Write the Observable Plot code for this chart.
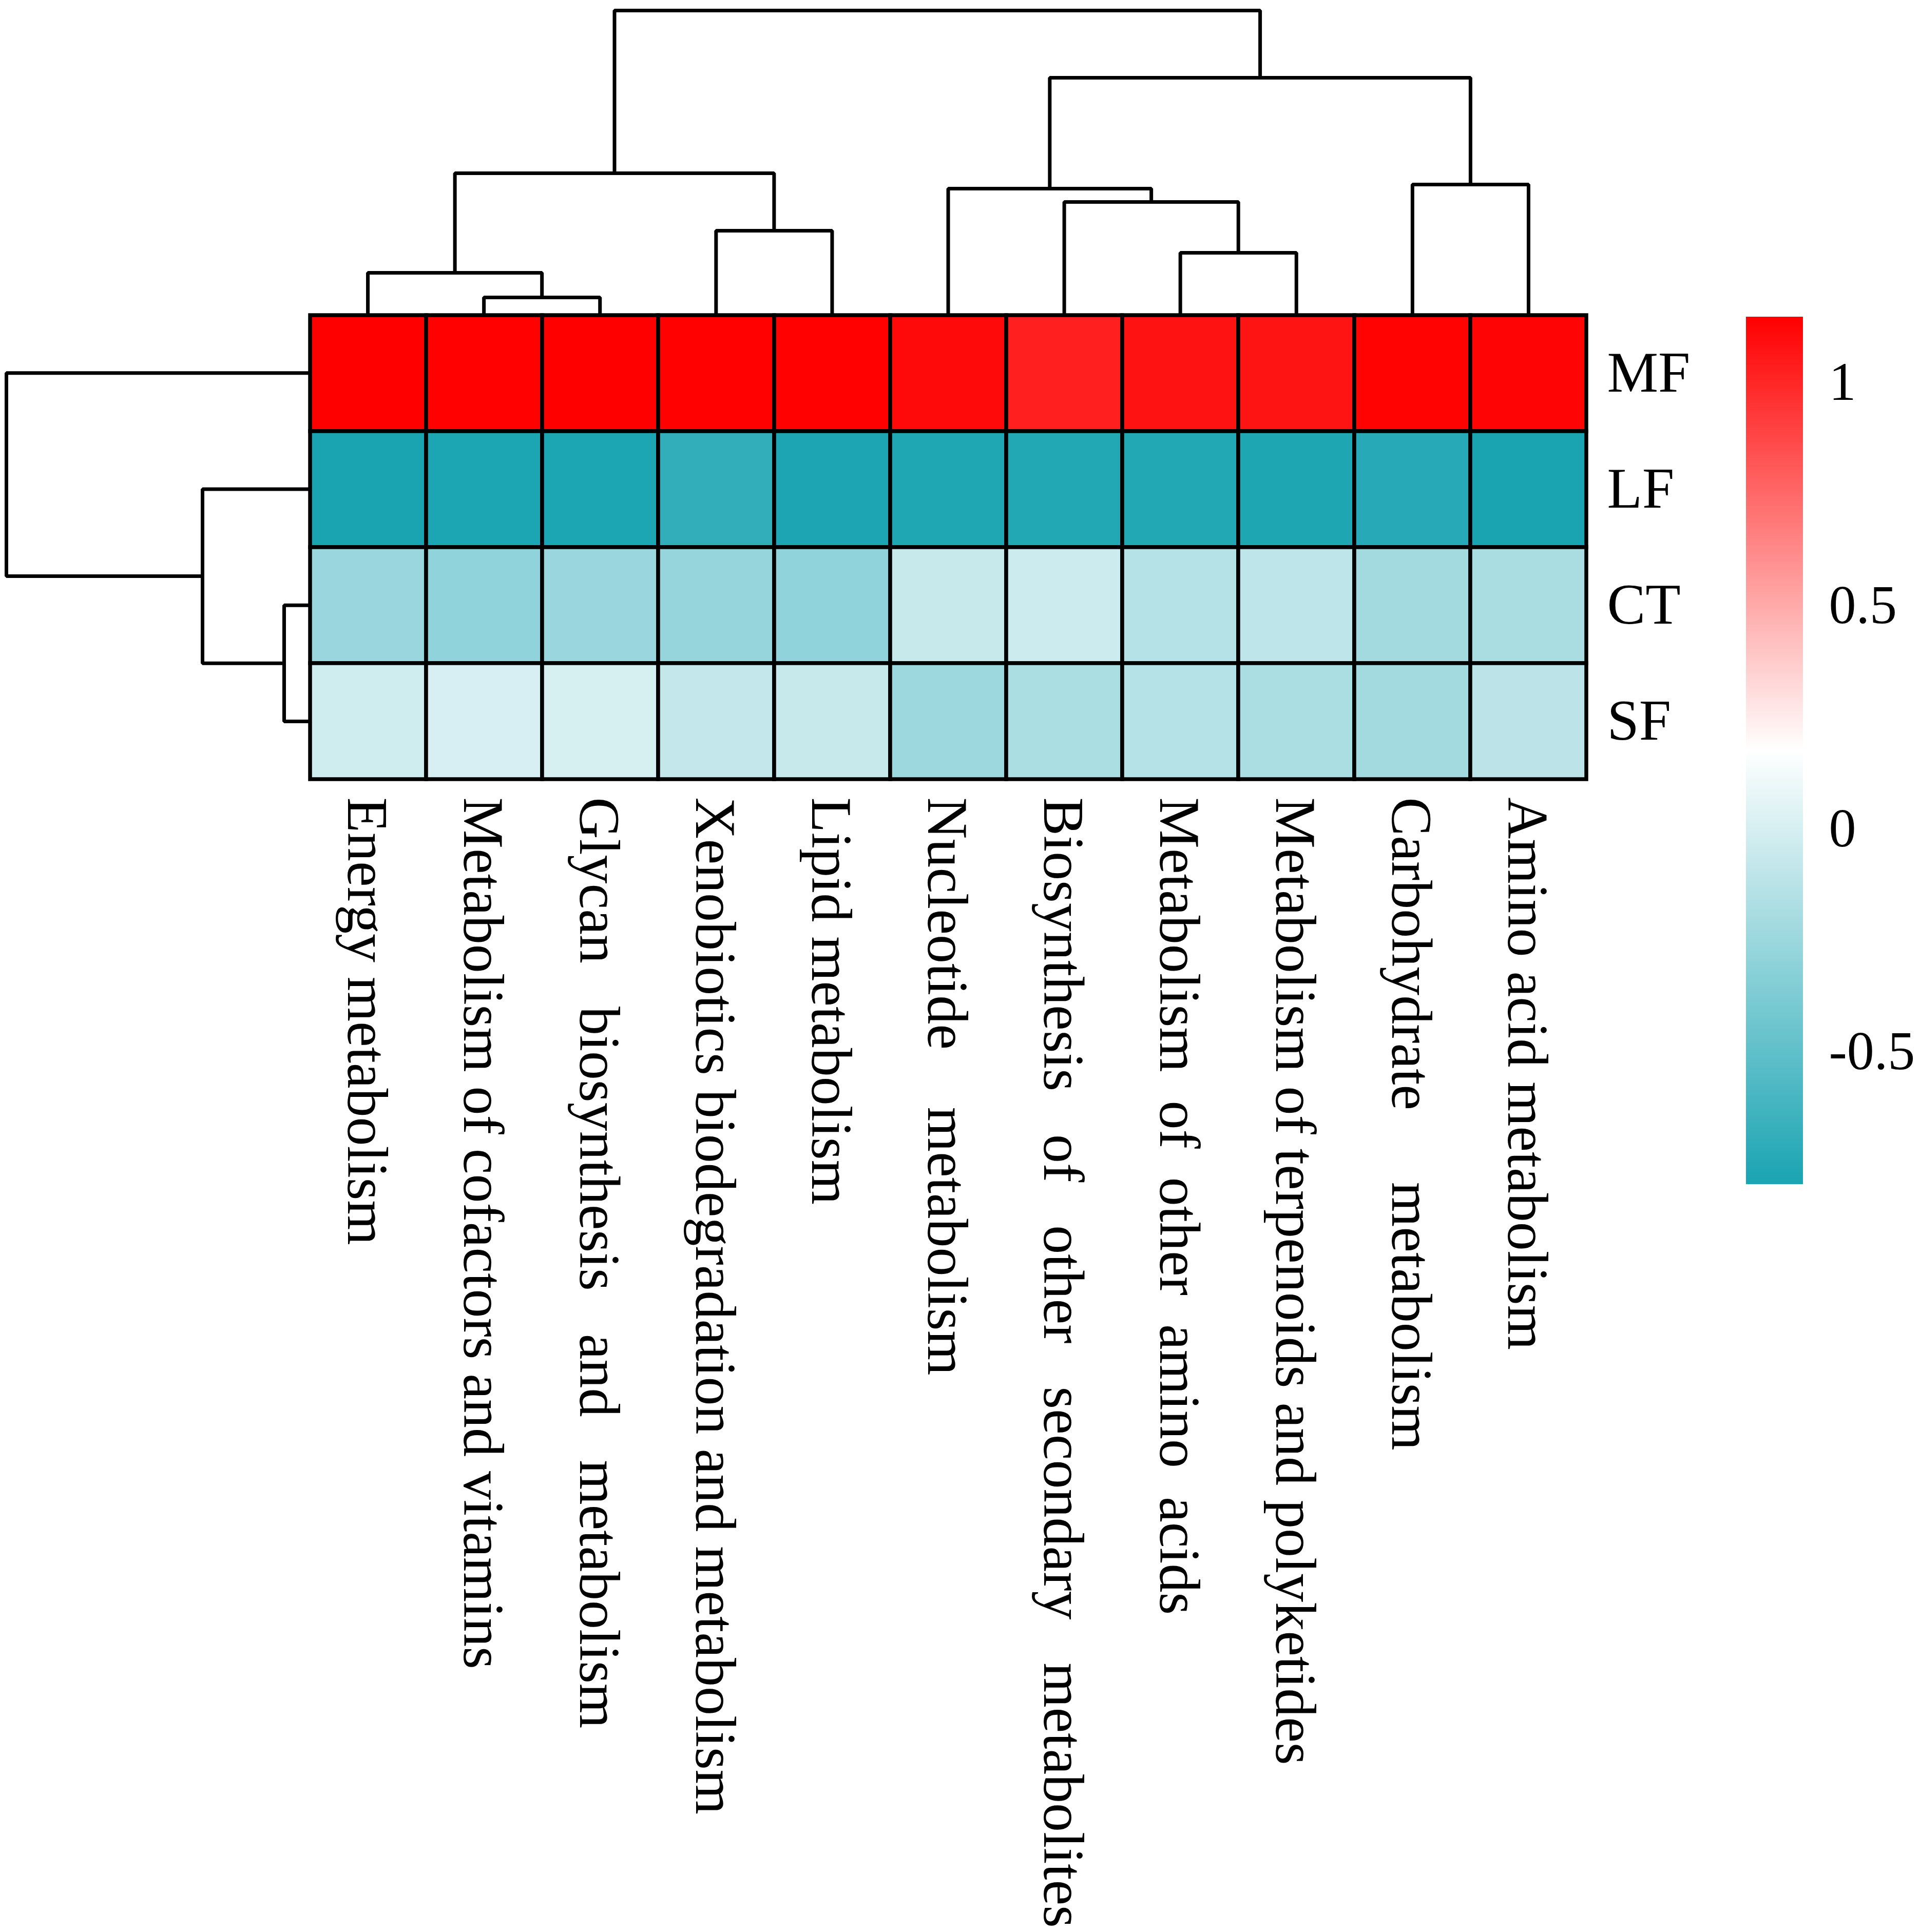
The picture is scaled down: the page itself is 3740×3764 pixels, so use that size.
<!DOCTYPE html>
<html>
<head>
<meta charset="utf-8">
<script src="https://cdn.jsdelivr.net/npm/d3@7"></script>
<script src="https://cdn.jsdelivr.net/npm/@observablehq/plot@0.6"></script>
<style>
html, body { margin: 0; padding: 0; background: #ffffff; }
#chart { position: relative; width: 3740px; height: 3764px; background: #ffffff; }
#chart svg { position: absolute; left: 0; top: 0; max-width: none; }
#chart svg text { white-space: pre; }
</style>
</head>
<body>
<div id="chart"></div>
<script>
// ---------- data ----------
const pathways = [
  "Energy metabolism",
  "Metabolism of cofactors and vitamins",
  "Glycan   biosynthesis   and   metabolism",
  "Xenobiotics biodegradation and metabolism",
  "Lipid metabolism",
  "Nucleotide    metabolism",
  "Biosynthesis   of   other   secondary   metabolites",
  "Metabolism  of  other  amino  acids",
  "Metabolism of terpenoids and polyketides",
  "Carbohydrate     metabolism",
  "Amino acid metabolism"
];
const groups = ["MF", "LF", "CT", "SF"];

const valuesMF = [1.147, 1.145, 1.146, 1.144, 1.145, 1.11, 1.03, 1.08, 1.07, 1.14, 1.13];
const valuesLF = [-0.795, -0.79, -0.79, -0.695, -0.785, -0.77, -0.765, -0.765, -0.78, -0.74, -0.797];
const valuesCT = [-0.26, -0.29, -0.26, -0.27, -0.29, -0.06, -0.04, -0.14, -0.10, -0.22, -0.19];
const valuesSF = [-0.03, 0.005, 0.0, -0.08, -0.06, -0.24, -0.18, -0.14, -0.18, -0.22, -0.11];

// hclust-style merges: negative = leaf (1-based, display order), positive = earlier merge; third = height
const colMerge = [
  [-2, -3, 0.34],
  [-1, 1, 0.82],
  [-8, -9, 1.21],
  [-4, -5, 1.64],
  [-7, 3, 2.20],
  [-6, 5, 2.46],
  [-10, -11, 2.54],
  [2, 4, 2.76],
  [6, 7, 4.62],
  [8, 9, 5.93]
];
const rowMerge = [
  [-3, -4, 0.50],
  [-2, 1, 2.09],
  [-1, 2, 5.91]
];
const colorTicks = [-0.5, 0, 0.5, 1];

// ---------- build ----------
const W = 3740, H = 3764;
const heatLeft = 603, heatRight = 3090, heatTop = 613, heatBottom = 1518;
const barLeft = 3401, barRight = 3512, barTop = 617, barBottom = 2307;

const rowsValues = [valuesMF, valuesLF, valuesCT, valuesSF];
const cells = [];
groups.forEach((g, gi) => pathways.forEach((p, pi) => cells.push({group: g, pathway: p, value: rowsValues[gi][pi]})));

const [vmin, vmax] = d3.extent(cells, d => d.value);
const vmid = (vmin + vmax) / 2;
const colorOpts = {type: "linear", domain: [vmin, vmid, vmax], range: ["#1aa4b2", "#ffffff", "#ff0000"], interpolate: "rgb"};

function dendro(merge) {
  const pos = [], hgt = [], lines = [];
  const get = k => k < 0 ? [-k - 0.5, 0] : [pos[k - 1], hgt[k - 1]];
  merge.forEach(([a, b, h], i) => {
    const [pa, ha] = get(a), [pb, hb] = get(b);
    pos[i] = (pa + pb) / 2; hgt[i] = h;
    lines.push({id: i, p: pa, h: ha}, {id: i, p: pa, h: h}, {id: i, p: pb, h: h}, {id: i, p: pb, h: hb});
  });
  return {lines, max: d3.max(merge, d => d[2])};
}
const colD = dendro(colMerge);
const rowD = dendro(rowMerge);

const font = "'Liberation Serif', 'Times New Roman', Times, serif";
const chart = document.getElementById("chart");

// heatmap + labels
chart.appendChild(Plot.plot({
  width: W, height: H,
  marginLeft: heatLeft, marginRight: W - heatRight, marginTop: heatTop, marginBottom: H - heatBottom,
  x: {type: "band", domain: pathways, padding: 0, axis: null},
  y: {type: "band", domain: groups, padding: 0, axis: null},
  color: colorOpts,
  style: {fontFamily: font, fontSize: "112px", background: "transparent", color: "black"},
  marks: [
    Plot.cell(cells, {x: "pathway", y: "group", fill: "value", stroke: "black", strokeWidth: 7.5}),
    Plot.text(pathways, {x: d => d, frameAnchor: "bottom", dy: 35, dx: -4, rotate: 90, textAnchor: "start", lineAnchor: "middle", fill: "black"}),
    Plot.text(groups, {y: d => d, frameAnchor: "right", dx: 40, textAnchor: "start", lineAnchor: "middle", fill: "black"})
  ]
}));

// column dendrogram
chart.appendChild(Plot.plot({
  width: W, height: H,
  marginLeft: heatLeft, marginRight: W - heatRight, marginTop: 20, marginBottom: H - heatTop,
  x: {domain: [0, pathways.length], axis: null},
  y: {domain: [0, colD.max], axis: null},
  style: {background: "transparent"},
  marks: [
    Plot.line(colD.lines, {x: "p", y: "h", z: "id", stroke: "black", strokeWidth: 7, strokeLinejoin: "miter", strokeLinecap: "square"})
  ]
}));

// row dendrogram
chart.appendChild(Plot.plot({
  width: W, height: H,
  marginLeft: 12, marginRight: W - heatLeft, marginTop: heatTop, marginBottom: H - heatBottom,
  x: {domain: [rowD.max, 0], axis: null},
  y: {domain: [0, groups.length], reverse: true, axis: null},
  style: {background: "transparent"},
  marks: [
    Plot.line(rowD.lines, {x: "h", y: "p", z: "id", stroke: "black", strokeWidth: 7, strokeLinejoin: "miter", strokeLinecap: "square"})
  ]
}));

// colour bar
const nSteps = 400;
const steps = d3.range(nSteps).map(i => {
  const v1 = vmin + (vmax - vmin) * i / nSteps;
  const v2 = vmin + (vmax - vmin) * Math.min(nSteps, i + 1.6) / nSteps;
  return {v: vmin + (vmax - vmin) * (i + 0.5) / nSteps, y1: v1, y2: v2};
});
chart.appendChild(Plot.plot({
  width: W, height: H,
  marginLeft: barLeft, marginRight: W - barRight, marginTop: barTop, marginBottom: H - barBottom,
  x: {domain: [0, 1], axis: null},
  y: {domain: [vmin, vmax], axis: null},
  color: colorOpts,
  style: {fontFamily: font, fontSize: "106px", background: "transparent", color: "black"},
  marks: [
    Plot.rect(steps, {x1: 0, x2: 1, y1: "y1", y2: "y2", fill: "v"}),
    Plot.axisY(colorTicks, {anchor: "right", tickSize: 0, tickPadding: 50, tickFormat: d => String(d), fill: "black"})
  ]
}));
</script>
</body>
</html>
